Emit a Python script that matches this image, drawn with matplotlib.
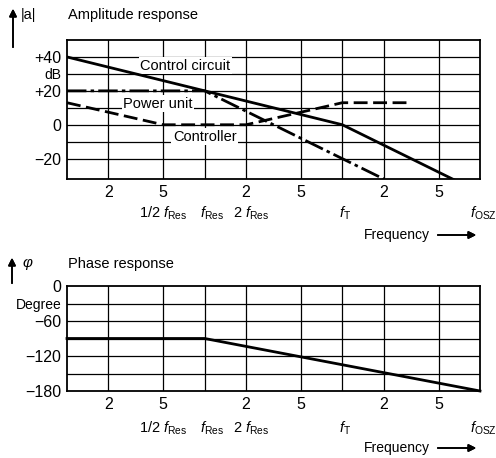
import matplotlib
matplotlib.use('Agg')
import matplotlib.pyplot as plt
import matplotlib.transforms as mtransforms

# Fonts #
plt.rcParams['font.family'] = ['Liberation Sans Narrow', 'Liberation Sans', 'DejaVu Sans']
plt.rcParams['mathtext.fontset'] = 'custom'
plt.rcParams['mathtext.rm'] = 'Liberation Sans'
plt.rcParams['mathtext.it'] = 'Liberation Sans:italic'
plt.rcParams['lines.scale_dashes'] = False

# Data (frequency in units of f_Res) #
freq_cc = [0.1, 1, 10, 100]
amp_cc = [40, 20, 0, -40]          # control circuit
freq_pu = [0.1, 1, 10, 20]
amp_pu = [20, 20, -20, -32]        # power unit
freq_ctl = [0.1, 0.5, 2, 10, 30]
amp_ctl = [13, 0, 0, 13, 13]       # controller
freq_ph = [0.1, 1, 100]
phase = [-90, -90, -180]

grid_x = [0.2, 0.5, 1, 2, 5, 10, 20, 50]
tick_x = [0.2, 0.5, 2, 5, 20, 50]
tick_x_labels = ['2', '5', '2', '5', '2', '5']
mark_x = [0.5, 1, 2, 10, 100]
mark_labels = [r'1/2 $f_{\rm Res}$', r'$f_{\rm Res}$', r'2 $f_{\rm Res}$', r'$f_{\rm T}$', r'$f_{\rm OSZ}$']
mark_shift = [0, 7, 5, 3, 3]  # px nudges of the label text

amp_ticks = [40, 30, 20, 0, -20]
amp_labels = ['+40', 'dB', '+20', '0', '\u221220']
amp_grid = [40, 30, 20, 10, 0, -10, -20]
ph_ticks = [0, -30, -60, -120, -180]
ph_labels = ['0', 'Degree', '\u221260', '\u2212120', '\u2212180']
ph_grid = [-30, -60, -90, -120, -150]

W, H = 496, 458
fig = plt.figure(figsize=(W / 100, H / 100), dpi=100)


def fx(px):
    return px / W


def fy(py):
    return 1 - py / H


ax1 = fig.add_axes([fx(67), fy(179), fx(480 - 67), (179 - 40) / H])
ax2 = fig.add_axes([fx(67), fy(391), fx(480 - 67), (391 - 286) / H])


def setup(ax, yticks, ylabels, ygrid, ylim, mark_y):
    ax.set_xscale('log')
    ax.set_xlim(0.1, 100)
    ax.set_ylim(*ylim)
    ax.minorticks_off()
    for g in grid_x:
        ax.axvline(g, color='k', lw=0.9, zorder=1)
    for g in ygrid:
        ax.axhline(g, color='k', lw=0.9, zorder=1)
    ax.set_xticks(tick_x)
    ax.set_xticklabels(tick_x_labels, fontsize=11.5)
    ax.set_yticks(yticks)
    ax.set_yticklabels(ylabels, fontsize=11.5)
    for lab, txt in zip(ax.get_yticklabels(), ylabels):
        if txt in ('dB', 'Degree'):
            lab.set_fontsize(10)
    ax.tick_params(length=0, pad=4)
    for s in ax.spines.values():
        s.set_linewidth(1.3)
    for xv, lab, sh in zip(mark_x, mark_labels, mark_shift):
        tr = ax.get_xaxis_transform() + mtransforms.ScaledTranslation(sh / 100, 0, fig.dpi_scale_trans)
        ax.text(xv, mark_y, lab, transform=tr, ha='center', va='center', fontsize=10.5)


setup(ax1, amp_ticks, amp_labels, amp_grid, (-32, 50), -34 / 139)
setup(ax2, ph_ticks, ph_labels, ph_grid, (-180, 0), -37 / 105)

# Amplitude curves #
ax1.plot(freq_cc, amp_cc, color='k', lw=2.0, zorder=3)
ax1.plot(freq_pu, amp_pu, color='k', lw=2.0, dashes=(14, 3, 2.5, 3), zorder=3)
ax1.plot(freq_ctl, amp_ctl, color='k', lw=2.0, dashes=(10, 4), zorder=3)

box = dict(facecolor='white', edgecolor='none', pad=1.0)
ax1.text(0.72, 34.7, 'Control circuit', fontsize=10.5, ha='center', va='center', bbox=box, zorder=2)
ax1.text(0.46, 12.4, 'Power unit', fontsize=10.5, ha='center', va='center', bbox=box, zorder=2)
ax1.text(1.0, -7, 'Controller', fontsize=10.5, ha='center', va='center', bbox=box, zorder=2)

# Phase curve #
ax2.plot(freq_ph, phase, color='k', lw=2.0, zorder=3, clip_on=False)

# Titles and arrows #
arr = dict(arrowstyle='-|>', color='k', lw=1.2, mutation_scale=11)
fig.text(fx(68), fy(15), 'Amplitude response', fontsize=10.5, va='center', ha='left')
fig.text(fx(21), fy(15), '|a|', fontsize=10.5, va='center', ha='left')
fig.add_artist(plt.annotate('', xy=(fx(13), fy(6)), xytext=(fx(13), fy(50)),
                            xycoords='figure fraction', arrowprops=arr))
fig.text(fx(68), fy(264), 'Phase response', fontsize=10.5, va='center', ha='left')
fig.text(fx(22), fy(264), r'$\varphi$', fontsize=11, va='center', ha='left')
fig.add_artist(plt.annotate('', xy=(fx(12), fy(255)), xytext=(fx(12), fy(286)),
                            xycoords='figure fraction', arrowprops=arr))

for yy in (235, 448):
    fig.text(fx(430), fy(yy), 'Frequency', fontsize=10, va='center', ha='right')
    fig.add_artist(plt.annotate('', xy=(fx(479), fy(yy)), xytext=(fx(435), fy(yy)),
                                xycoords='figure fraction', arrowprops=arr))

fig.savefig('out.png', dpi=100)
